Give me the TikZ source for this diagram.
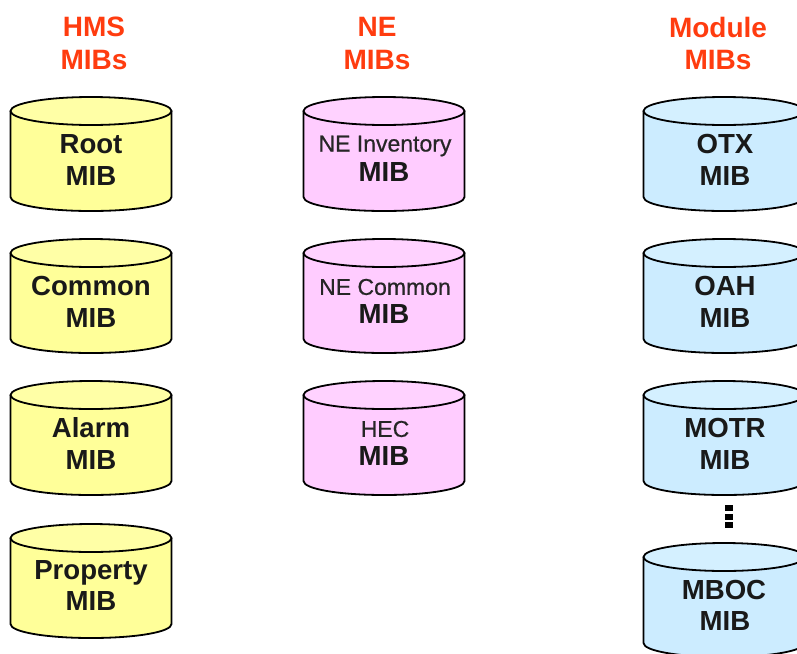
\documentclass[tikz,border=0pt]{standalone}
\usepackage{fontspec}
\setmainfont{Liberation Sans}
\tikzset{
  x=1pt,y=-1pt,
  cylline/.style={draw=black,line width=1.8pt,line join=round},
  heading/.style={text=headred,font=\fontsize{28}{28}\selectfont\bfseries,inner sep=0pt,anchor=center},
  big/.style={font=\fontsize{27.6}{28}\selectfont\bfseries,inner sep=0pt,anchor=center,text=black!90},
  small/.style={font=\fontsize{23}{23}\selectfont\addfontfeatures{FakeBold=0.6},inner sep=0pt,anchor=center,text=black!85},
  dot/.style={fill=black,inner sep=0pt,minimum width=8pt,minimum height=6pt,draw=none},
}
\definecolor{headred}{HTML}{FF3C0F}
\definecolor{cylyellow}{HTML}{FFFF99}
\definecolor{cylpink}{HTML}{FFCCFF}
\definecolor{cylblue}{HTML}{CCECFF}
\definecolor{lidyellow}{HTML}{FFFFA6}
\definecolor{lidpink}{HTML}{FFD2FF}
\definecolor{lidblue}{HTML}{D4F0FF}
% #1 centre x, #2 top y, #3 colour, #4 lid colour
\newcommand{\mibcyl}[4]{%
  \path[cylline,fill=#3] (#1-80.5,#2+100)
    .. controls (#1-80.5,#2+108) and (#1-45,#2+114) .. (#1,#2+114)
    .. controls (#1+45,#2+114) and (#1+80.5,#2+108) .. (#1+80.5,#2+100)
    -- (#1+80.5,#2+14) -- (#1-80.5,#2+14) -- cycle;
  \path[cylline,fill=#4] (#1,#2+14) ellipse[x radius=80.5,y radius=14];
}
\begin{document}
\begin{tikzpicture}[x=1pt,y=-1pt]
\useasboundingbox (0,0) rectangle (797,653);
\fill[white] (0,0) rectangle (797,653);

\node[heading] (h1a) at (94,27) {HMS};
\node[heading] (h1b) at (94,60) {MIBs};
\node[heading] (h2a) at (377,27) {NE};
\node[heading] (h2b) at (377,60) {MIBs};
\node[heading] (h3a) at (718,27) {Module};
\node[heading] (h3b) at (718,60) {MIBs};

\mibcyl{91}{97}{cylyellow}{lidyellow}
\node[big] (r1) at (91,144) {Root};
\node[big] (r2) at (91,176) {MIB};
\mibcyl{91}{239}{cylyellow}{lidyellow}
\node[big] (c1) at (91,286) {Common};
\node[big] (c2) at (91,318) {MIB};
\mibcyl{91}{381}{cylyellow}{lidyellow}
\node[big] (a1) at (91,428) {Alarm};
\node[big] (a2) at (91,460) {MIB};
\mibcyl{91}{524}{cylyellow}{lidyellow}
\node[big] (p1) at (91,573) {Property};
\node[big] (p2) at (91,601) {MIB};

\mibcyl{384}{97}{cylpink}{lidpink}
\node[small] (n1) at (385,146) {NE Inventory};
\node[big] (n2) at (384,172) {MIB};
\mibcyl{384}{239}{cylpink}{lidpink}
\node[small] (m1) at (385,287) {NE Common};
\node[big] (m2) at (384,314) {MIB};
\mibcyl{384}{381}{cylpink}{lidpink}
\node[small] (e1) at (385,429) {HEC};
\node[big] (e2) at (384,456) {MIB};

\mibcyl{724}{97}{cylblue}{lidblue}
\node[big] (o1) at (725,144) {OTX};
\node[big] (o2) at (725,176) {MIB};
\mibcyl{724}{239}{cylblue}{lidblue}
\node[big] (b1) at (725,286) {OAH};
\node[big] (b2) at (725,318) {MIB};
\mibcyl{724}{381}{cylblue}{lidblue}
\node[big] (t1) at (725,428) {MOTR};
\node[big] (t2) at (725,460) {MIB};
\mibcyl{724}{543}{cylblue}{lidblue}
\node[big] (q1) at (724,590) {MBOC};
\node[big] (q2) at (725,621) {MIB};

\node[dot] (d1) at (729,508) {};
\node[dot] (d2) at (729,516.5) {};
\node[dot] (d3) at (729,525) {};
\end{tikzpicture}
\end{document}
